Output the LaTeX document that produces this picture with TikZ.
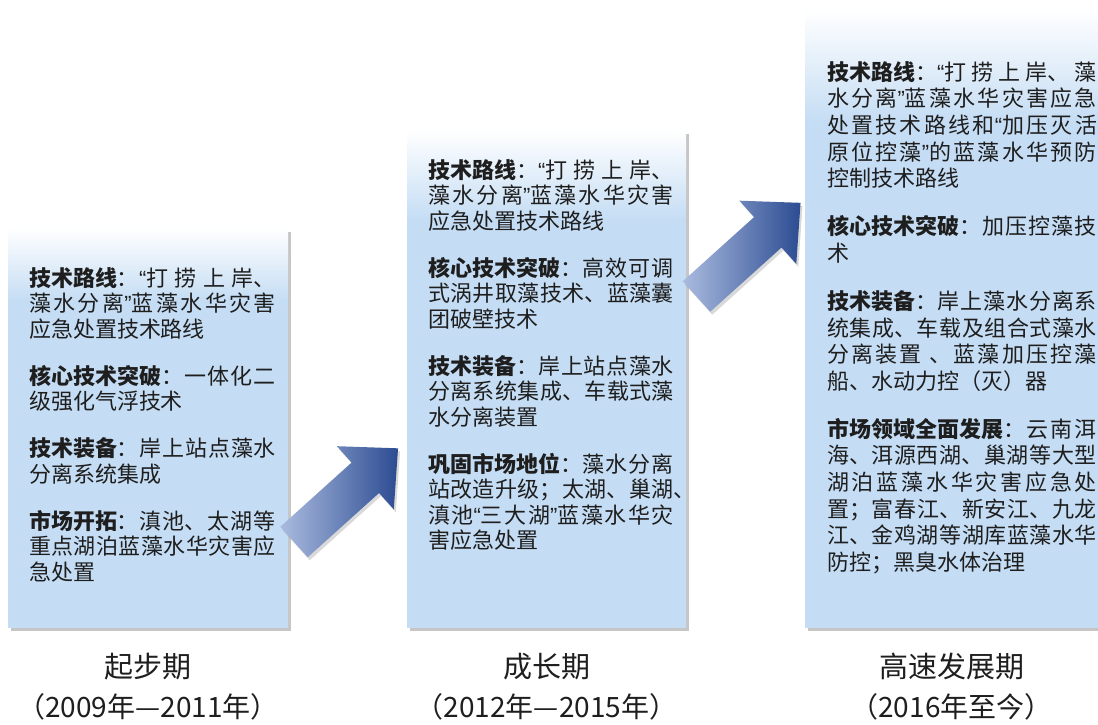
\documentclass[tikz,border=0pt]{standalone}
\usepackage{fontspec}
\setmainfont{Noto Sans CJK SC}
\newfontfamily\quotefont{Liberation Sans}
\usetikzlibrary{positioning, shadows}

% Chinese lines may break and stretch between characters
\XeTeXlinebreaklocale "zh"
\XeTeXlinebreakskip = 0pt plus 2pt

\definecolor{panelblue}{HTML}{C5DDF4}
\definecolor{arrowtail}{HTML}{AABBDF}
\definecolor{arrowmid}{HTML}{3A6BC6}
\definecolor{arrowhead}{HTML}{2C4C92}
\definecolor{ink}{HTML}{1E1E1E}

\pgfdeclareverticalshading{panelfade}{100bp}{color(0bp)=(panelblue);
  color(25bp)=(panelblue); color(66bp)=(panelblue); color(75bp)=(white);
  color(100bp)=(white)}

\newcommand{\paragap}{\par\vspace{21.5pt}}
\newcommand{\lquo}{{\quotefont “}}
\newcommand{\rquo}{{\quotefont ”}}
\newcommand{\keyterm}[1]{\mbox{\bfseries #1}}

\begin{document}
\begin{tikzpicture}[
    x=1pt, y=-1pt,
    panel/.style={shade, shading=panelfade, inner sep=0pt,
                  drop shadow={shadow xshift=3pt, shadow yshift=-4pt,
                               opacity=.45}},
    body/.style={anchor=base west, inner sep=0pt, align=justify, text=ink,
                 font=\fontsize{22}{25.5}\selectfont},
    stage/.style={inner sep=0pt, text=ink, font=\fontsize{29}{34}\selectfont},
    years/.style={inner sep=0pt, text=ink, font=\fontsize{28}{32}\selectfont},
    growth/.style={left color=arrowtail, middle color=arrowmid,
                   right color=arrowhead,
                   drop shadow={shadow xshift=2pt, shadow yshift=-3pt,
                                opacity=.3}}
  ]
  \useasboundingbox (0,0) rectangle (1098,724);
  \clip (0,0) rectangle (1098,724);

  % Stages
  \node[panel, minimum width=280pt, minimum height=399pt] (p1) at (148,427.5) {};
  \node[panel, minimum width=279pt, minimum height=497pt] (p2) at (546.5,378.5) {};
  \node[panel, minimum width=293pt, minimum height=617pt] (p3) at (951.5,318.5) {};

  % Growth arrows
  \coordinate (a1) at (294,542);
  \coordinate (a2) at (696.5,296.5);
  \foreach \a in {a1,a2}
    \shade[growth, shift={(\a)}, rotate=42]
      (0,20.5) -- (96,20.5) -- (96,42.5) -- (140,0) -- (96,-42.5)
      -- (96,-20.5) -- (0,-20.5) -- cycle;

  % Stage 1
  \node[body, text width=247pt] (t1) at ([xshift=21pt, yshift=-58.4pt]p1.north west) {%
    \keyterm{技术路线}：\lquo 打捞上岸、\linebreak
    藻水分离\rquo 蓝藻水华灾害\linebreak
    应急处置技术路线\paragap
    \keyterm{核心技术突破}：一体化二\linebreak
    级强化气浮技术\paragap
    \keyterm{技术装备}：岸上站点藻水\linebreak
    分离系统集成\paragap
    \keyterm{市场开拓}：滇池、太湖等\linebreak
    重点湖泊蓝藻水华灾害应\linebreak
    急处置};

  % Stage 2
  \node[body, text width=246pt] (t2) at ([xshift=21pt, yshift=-48.4pt]p2.north west) {%
    \keyterm{技术路线}：\lquo 打捞上岸、\linebreak
    藻水分离\rquo 蓝藻水华灾害\linebreak
    应急处置技术路线\paragap
    \keyterm{核心技术突破}：高效可调\linebreak
    式涡井取藻技术、蓝藻囊\linebreak
    团破壁技术\paragap
    \keyterm{技术装备}：岸上站点藻水\linebreak
    分离系统集成、车载式藻\linebreak
    水分离装置\paragap
    \keyterm{巩固市场地位}：藻水分离\linebreak
    站改造升级；太湖、巢湖\rlap{、}\linebreak
    滇池\lquo 三大湖\rquo 蓝藻水华灾\linebreak
    害应急处置};

  % Stage 3
  \node[body, text width=270pt, font=\fontsize{22}{26.6}\selectfont] (t3)
    at ([xshift=22pt, yshift=-70.4pt]p3.north west) {%
    \keyterm{技术路线}：\lquo 打捞上岸、藻\linebreak
    水分离\rquo 蓝藻水华灾害应急\linebreak
    处置技术路线和\lquo 加压灭活\linebreak
    原位控藻\rquo 的蓝藻水华预防\linebreak
    控制技术路线\paragap
    \keyterm{核心技术突破}：加压控藻技\linebreak
    术\paragap
    \keyterm{技术装备}：岸上藻水分离系\linebreak
    统集成、车载及组合式藻水\linebreak
    分离装置 、蓝藻加压控藻\linebreak
    船、水动力控（灭）器\paragap
    \keyterm{市场领域全面发展}：云南洱\linebreak
    海、洱源西湖、巢湖等大型\linebreak
    湖泊蓝藻水华灾害应急处\linebreak
    置；富春江、新安江、九龙\linebreak
    江、金鸡湖等湖库蓝藻水华\linebreak
    防控；黑臭水体治理};

  % Labels
  \node[stage, below=26pt of p1] (s1) {起步期};
  \node[stage, below=26pt of p2] (s2) {成长期};
  \node[stage, below=26pt of p3] (s3) {高速发展期};
  \node[years, below=13pt of s1] (y1) {（2009年—2011年）};
  \node[years, below=13pt of s2] (y2) {（2012年—2015年）};
  \node[years, below=13pt of s3] (y3) {（2016年至今）};
\end{tikzpicture}
\end{document}
